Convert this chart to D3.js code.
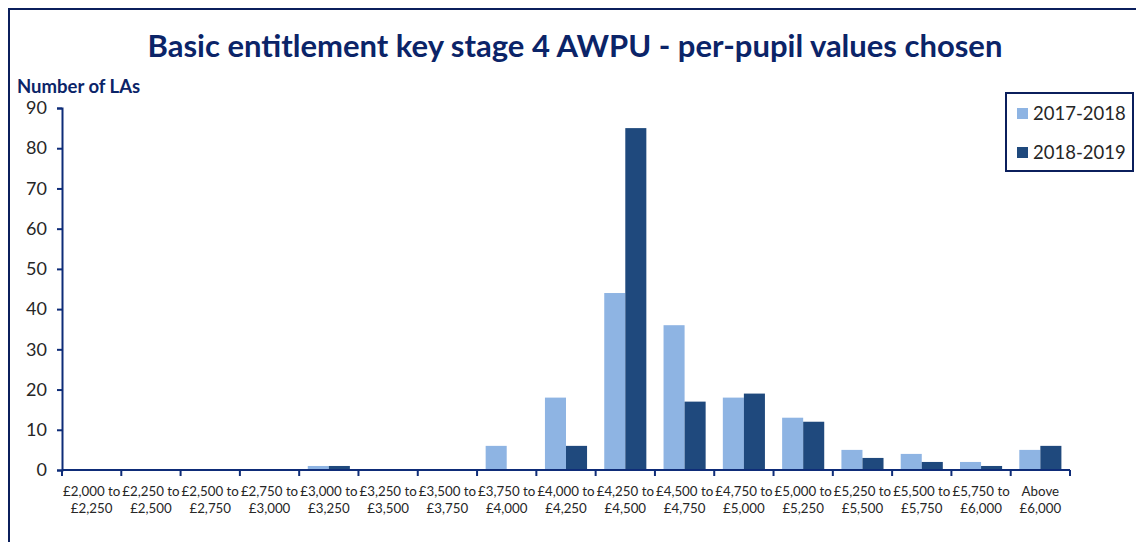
<!DOCTYPE html>
<html>
<head>
<meta charset="utf-8">
<script src="https://cdn.jsdelivr.net/npm/d3@7"></script>
<style>
  html, body { margin: 0; padding: 0; background: #fff; }
  svg { display: block; font-family: Lato, "Open Sans", sans-serif; }
</style>
</head>
<body>
<svg id="chart" width="1136" height="542"></svg>
<script>
const categories = [
  ["£2,000 to", "£2,250"], ["£2,250 to", "£2,500"], ["£2,500 to", "£2,750"],
  ["£2,750 to", "£3,000"], ["£3,000 to", "£3,250"], ["£3,250 to", "£3,500"],
  ["£3,500 to", "£3,750"], ["£3,750 to", "£4,000"], ["£4,000 to", "£4,250"],
  ["£4,250 to", "£4,500"], ["£4,500 to", "£4,750"], ["£4,750 to", "£5,000"],
  ["£5,000 to", "£5,250"], ["£5,250 to", "£5,500"], ["£5,500 to", "£5,750"],
  ["£5,750 to", "£6,000"], ["Above", "£6,000"]
];
const seriesNames = ["2017-2018", "2018-2019"];
const values2017 = [0, 0, 0, 0, 1, 0, 0, 6, 18, 44, 36, 18, 13, 5, 4, 2, 5];
const values2018 = [0, 0, 0, 0, 1, 0, 0, 0, 6, 85, 17, 19, 12, 3, 2, 1, 6];
const yTicks = [0, 10, 20, 30, 40, 50, 60, 70, 80, 90];
const titleText = "Basic entitlement key stage 4 AWPU - per-pupil values chosen";
const yAxisTitle = "Number of LAs";

const colors = ["#8EB4E3", "#1F497D"];
const navy = "#0B2468";
const axisColor = "#0E2C78";

const svg = d3.select("#chart");

// outer frame
svg.append("rect").attr("x", 9).attr("y", 9).attr("width", 1140).attr("height", 540)
  .attr("fill", "none").attr("stroke", "#0B1F5C").attr("stroke-width", 2);

const mLeft = 62, mRight = 1070, mTop = 108, mBottom = 470;

const x0 = d3.scaleBand().domain(d3.range(categories.length)).range([mLeft, mRight])
  .paddingInner(0.29).paddingOuter(0.145);
const x1 = d3.scaleBand().domain(seriesNames).range([0, x0.bandwidth()]);
const y = d3.scaleLinear().domain([0, 90]).range([mBottom, mTop]);

// title
svg.append("text").attr("x", 575).attr("y", 57).attr("text-anchor", "middle")
  .attr("font-size", 31).attr("font-weight", "bold").attr("fill", navy)
  .text(titleText);
svg.append("text").attr("x", 17).attr("y", 93)
  .attr("font-size", 18.5).attr("font-weight", "bold").attr("fill", navy)
  .text(yAxisTitle);

// bars
const data = categories.map((c, i) => ({ i, vals: [values2017[i], values2018[i]] }));
const g = svg.append("g");
g.selectAll("g.grp").data(data).join("g").attr("class", "grp")
  .attr("transform", d => `translate(${x0(d.i)},0)`)
  .selectAll("rect").data(d => d.vals.map((v, k) => ({ k, v })))
  .join("rect")
  .attr("x", d => x1(seriesNames[d.k]))
  .attr("width", x1.bandwidth())
  .attr("y", d => y(d.v))
  .attr("height", d => y(0) - y(d.v))
  .attr("fill", d => colors[d.k]);

// y axis
const yAxis = svg.append("g").attr("transform", `translate(${mLeft},0)`)
  .call(d3.axisLeft(y).tickValues(yTicks).tickSize(5).tickPadding(10).tickSizeOuter(5));
yAxis.select(".domain").attr("stroke", axisColor).attr("stroke-width", 2);
yAxis.selectAll(".tick line").attr("stroke", axisColor).attr("stroke-width", 2);
yAxis.selectAll(".tick text").attr("font-size", 18).attr("fill", "#262626")
  .attr("font-family", "Lato, sans-serif");

// x axis
const xEdge = d3.scaleLinear().domain([0, categories.length]).range([mLeft, mRight]);
const xAxis = svg.append("g").attr("transform", `translate(0,${mBottom})`);
xAxis.append("line").attr("x1", mLeft).attr("x2", mRight).attr("y1", 0).attr("y2", 0)
  .attr("stroke", axisColor).attr("stroke-width", 2);
xAxis.selectAll("line.tk").data(d3.range(categories.length + 1)).join("line")
  .attr("class", "tk")
  .attr("x1", d => xEdge(d)).attr("x2", d => xEdge(d))
  .attr("y1", 0).attr("y2", 6)
  .attr("stroke", axisColor).attr("stroke-width", 2);
const lbl = xAxis.selectAll("text.xl").data(categories).join("text").attr("class", "xl")
  .attr("text-anchor", "middle").attr("font-size", 13.3).attr("fill", "#262626")
  .attr("transform", (d, i) => `translate(${x0(i) + x0.bandwidth() / 2},0)`);
lbl.append("tspan").attr("x", 0).attr("y", 26).text(d => d[0]);
lbl.append("tspan").attr("x", 0).attr("y", 43).text(d => d[1]);

// legend
const lg = svg.append("g");
lg.append("rect").attr("x", 1006).attr("y", 93).attr("width", 127).attr("height", 78)
  .attr("fill", "#fff").attr("stroke", "#0B1F5C").attr("stroke-width", 2);
seriesNames.forEach((s, k) => {
  const cy = 113 + k * 39;
  lg.append("rect").attr("x", 1017).attr("y", cy - 5).attr("width", 11).attr("height", 11)
    .attr("fill", colors[k]);
  lg.append("text").attr("x", 1033).attr("y", cy + 6.5).attr("font-size", 18.5)
    .attr("fill", "#262626").text(s);
});
</script>
</body>
</html>
